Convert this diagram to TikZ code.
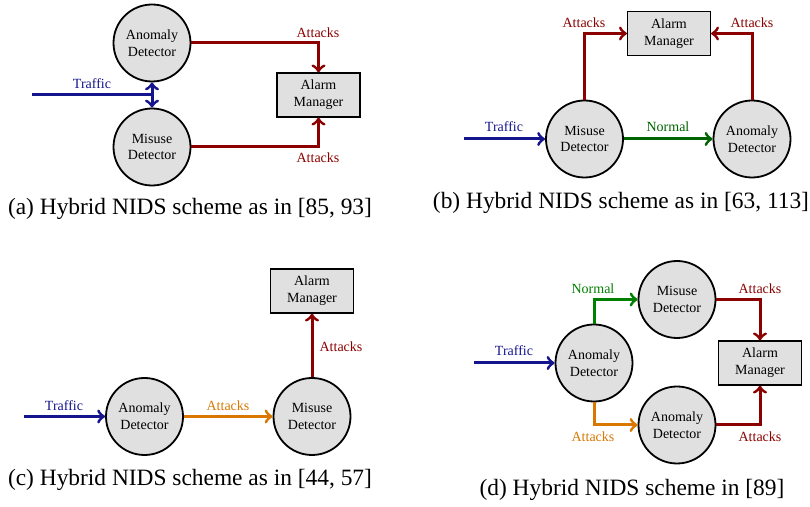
\documentclass[tikz,border=0pt]{standalone}
\usepackage{fontspec}
\setmainfont{Liberation Serif}
\definecolor{trafficblue}{RGB}{20,20,140}
\definecolor{attackred}{RGB}{139,0,0}
\definecolor{normalgreen}{RGB}{0,100,0}
\definecolor{lightgreen}{RGB}{0,128,0}
\definecolor{attackorange}{RGB}{217,119,0}
\definecolor{nodegray}{RGB}{224,224,224}
\tikzset{
	detector/.style={circle,draw,line width=0.9pt,fill=nodegray,minimum size=38.5pt,inner sep=0pt,align=center,font=\fontsize{7}{8.4}\selectfont},
	alarmbox/.style={rectangle,draw,line width=0.6pt,fill=nodegray,minimum width=41.5pt,minimum height=22pt,inner sep=0pt,align=center,font=\fontsize{7}{8.4}\selectfont},
	flow/.style={line width=1.5pt,->},
	lbl/.style={font=\fontsize{7}{8.4}\selectfont,inner sep=0pt},
	subcap/.style={font=\fontsize{11.7}{14}\selectfont,inner sep=0pt}
}
\begin{document}
\begin{tikzpicture}[x=0.5pt,y=-0.5pt]
	\useasboundingbox (0,0) rectangle (810,507);
	% (a)
	\node[detector] at (152,43) (anomA) {Anomaly\\Detector};
	\node[detector] at (152,147) (misA) {Misuse\\Detector};
	\node[alarmbox] at (318.5,95) (alarmA) {Alarm\\Manager};
	\coordinate (inA) at (32,95);
	\draw[flow,attackred] (anomA.east) -| (alarmA.north);
	\draw[flow,attackred] (misA.east) -| (alarmA.south);
	\draw[line width=1.5pt,<->,trafficblue] (anomA.south) -- (misA.north);
	\draw[line width=1.5pt,trafficblue] (inA) -- (inA -| anomA.south);
	\node[lbl,attackred] at (318,33) (atkA1) {Attacks};
	\node[lbl,attackred] at (318,158) (atkA2) {Attacks};
	\node[lbl,trafficblue] at (92,84) (trfA) {Traffic};
	\node[subcap] at (190,209) (capA) {(a) Hybrid NIDS scheme as in [85, 93]};
	% (b)
	\node[detector] at (584.5,139) (misB) {Misuse\\Detector};
	\node[detector] at (752,139) (anomB) {Anomaly\\Detector};
	\node[alarmbox] at (669,33.5) (alarmB) {Alarm\\Manager};
	\coordinate (inB) at (464,139);
	\draw[flow,attackred] (misB.north) |- (alarmB.west);
	\draw[flow,attackred] (anomB.north) |- (alarmB.east);
	\draw[flow,trafficblue] (inB) -- (misB.west);
	\draw[flow,normalgreen] (misB) -- (anomB);
	\node[lbl,attackred] at (584,23) (atkB1) {Attacks};
	\node[lbl,attackred] at (752,23) (atkB2) {Attacks};
	\node[lbl,trafficblue] at (504,127) (trfB) {Traffic};
	\node[lbl,normalgreen] at (668,127) (nrmB) {Normal};
	\node[subcap] at (621,203) (capB) {(b) Hybrid NIDS scheme as in [63, 113]};
	% (c)
	\node[detector] at (144.5,416.5) (anomC) {Anomaly\\Detector};
	\node[detector] at (312,416.5) (misC) {Misuse\\Detector};
	\node[alarmbox] at (312,291) (alarmC) {Alarm\\Manager};
	\coordinate (inC) at (24,416.5);
	\draw[flow,trafficblue] (inC) -- (anomC);
	\draw[flow,attackorange] (anomC) -- (misC);
	\draw[flow,attackred] (misC) -- (alarmC);
	\node[lbl,trafficblue] at (64,406) (trfC) {Traffic};
	\node[lbl,attackorange] at (228,406) (atkC1) {Attacks};
	\node[lbl,attackred] at (341,347) (atkC2) {Attacks};
	\node[subcap] at (190,480) (capC) {(c) Hybrid NIDS scheme as in [44, 57]};
	% (d)
	\node[detector] at (594,363) (anomD) {Anomaly\\Detector};
	\node[detector] at (677,299.5) (misD) {Misuse\\Detector};
	\node[detector] at (677,425) (anomDD) {Anomaly\\Detector};
	\node[alarmbox] at (760,363) (alarmD) {Alarm\\Manager};
	\coordinate (inD) at (474,363);
	\draw[flow,trafficblue] (inD) -- (anomD);
	\draw[flow,lightgreen] (anomD.north) |- (misD.west);
	\draw[flow,attackorange] (anomD.south) |- (anomDD.west);
	\draw[flow,attackred] (misD.east) -| (alarmD.north);
	\draw[flow,attackred] (anomDD.east) -| (alarmD.south);
	\node[lbl,trafficblue] at (514,351) (trfD) {Traffic};
	\node[lbl,lightgreen] at (593,289) (nrmD) {Normal};
	\node[lbl,attackorange] at (593,437) (atkD1) {Attacks};
	\node[lbl,attackred] at (760,289) (atkD2) {Attacks};
	\node[lbl,attackred] at (760,437) (atkD3) {Attacks};
	\node[subcap] at (632,489.5) (capD) {(d) Hybrid NIDS scheme in [89]};
\end{tikzpicture}
\end{document}
